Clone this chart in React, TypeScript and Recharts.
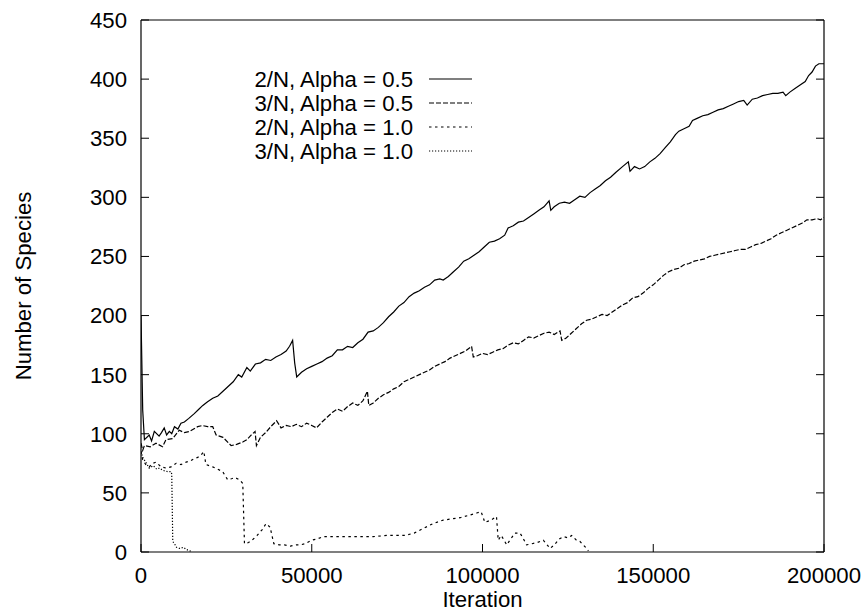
import { LineChart, Line, XAxis, YAxis } from "recharts";

const FONT = "'Liberation Sans', Arial, Helvetica, sans-serif";
const FS = 22.2;
const TICK = 8;

const xTicks = [0, 50000, 100000, 150000, 200000];
const yTicks = [0, 50, 100, 150, 200, 250, 300, 350, 400, 450];

const seriesNames = [
    "2/N, Alpha = 0.5",
    "3/N, Alpha = 0.5",
    "2/N, Alpha = 1.0",
    "3/N, Alpha = 1.0",
];
const dashes = ["", "5 2", "2.5 3.5", "1.2 1.8"];

// 2/N, Alpha = 0.5
const iterA = [
    0, 500, 1000, 2400, 3100, 3900, 5300, 6000, 6800, 7500, 8300, 9000, 9800, 10800, 11700, 12700,
    14000, 15600, 17000, 18100, 19500, 21000, 22500, 24000, 25500, 27000, 28500, 29500, 31000, 32000, 33500,
    35000, 36500, 38000, 39500, 41000, 42500, 43500, 44400, 45000, 45600, 47000, 48500, 50000, 51500,
    53000, 54500, 56000, 57500, 59000, 60500, 62000, 63500, 65000, 66500, 68000, 69500, 71000, 72500,
    74000, 75500, 77000, 78500, 80000, 81500, 83000, 84500, 86000, 87500, 88500, 90000, 91500, 93000,
    94500, 96000, 97500, 99000, 100500, 102000, 103500, 105000, 106500, 107500, 109000, 110500, 112000,
    113500, 115000, 116500, 118000, 119500, 120000, 121000, 122500, 124000, 125500, 127000, 128500,
    130000, 131500, 133000, 134500, 136000, 137500, 139000, 141000, 142700, 143200, 144500, 146000,
    147500, 149000, 150500, 152000, 153500, 155000, 156500, 157500, 159000, 160500, 161500, 163000,
    164500, 166000, 167500, 169000, 170500, 172000, 173500, 175000, 176500, 177500, 179000, 180500,
    182000, 183500, 185000, 186500, 188000, 188800, 190000, 191500, 193000, 194500, 195500, 196500,
    197500, 198500, 200000,
];
const speciesA = [
    200, 120, 95, 99, 94, 102, 98, 101, 105, 99, 102, 100, 106, 104, 109, 110,
    113, 117, 121, 124, 127, 130, 132, 136, 140, 144, 150, 148, 156, 153, 159,
    160, 163, 162, 165, 167, 170, 174, 179, 160, 148, 152, 155, 157, 159,
    161, 164, 166, 171, 171, 174, 173, 177, 180, 186, 187, 190, 194, 199,
    203, 208, 211, 216, 219, 221, 224, 226, 230, 231, 230, 233, 237, 241,
    246, 248, 251, 254, 258, 262, 263, 265, 268, 274, 276, 279, 280,
    283, 286, 289, 292, 297, 289, 292, 295, 296, 295, 298, 301,
    300, 304, 307, 310, 314, 317, 321, 326, 330, 322, 326, 324,
    326, 330, 333, 337, 342, 347, 353, 356, 358, 360, 365, 367,
    369, 370, 372, 374, 375, 377, 379, 381, 382, 378, 383, 384,
    386, 387, 388, 388, 389, 386, 389, 392, 395, 398, 403, 406,
    411, 413, 413,
];

// 3/N, Alpha = 0.5
const iterB = [
    0, 500, 1000, 2700, 4400, 6300, 7300, 9300, 11200, 12700, 14200, 16600, 18000, 19500, 21000, 22000,
    24000, 26400, 28000, 29800, 31000, 32300, 33400,
    33800, 35000, 36500, 38000, 39700, 41000, 42500, 44000, 45500, 47000, 48500, 50000, 51400, 53000,
    54500, 56000, 57500, 59000, 60500, 62000, 63500, 65000, 66300, 66700, 68000, 69500, 71000, 72500,
    74000, 75500, 77000, 78500, 80000, 81500, 83000, 84500, 86000, 87500, 89000, 90500, 92000, 93500,
    95000, 96800, 97300, 98500, 100000, 101500, 103000, 104500, 106000, 107500, 109000, 110500, 112000,
    113500, 115000, 116500, 118000, 119500, 121000, 122700, 123200, 124500, 126000, 127500, 129000,
    130500, 132000, 133500, 135000, 136500, 138000, 139500, 141000, 142500, 144000, 145500, 147000,
    148500, 150000, 151500, 153000, 154500, 156000, 157500, 159000, 160500, 162000, 163500, 165000,
    166500, 168000, 169500, 171000, 172500, 174000, 175500, 177000, 178500, 180000, 181500, 183000,
    184500, 186000, 187500, 189000, 190500, 192000, 193500, 195000, 196500, 198000, 199000, 200000,
];
const speciesB = [
    92, 86, 90, 89, 92, 89, 95, 96, 103, 101, 102, 106, 107, 106, 106, 99,
    97, 90, 91, 93, 95, 99, 102,
    90, 97, 101, 106, 111, 105, 107, 106, 108, 106, 109, 107, 105, 110,
    114, 118, 121, 119, 123, 126, 124, 128, 136, 124, 126, 130, 133, 135,
    138, 140, 144, 146, 148, 150, 152, 154, 157, 159, 161, 164, 166, 168,
    170, 174, 165, 166, 168, 167, 169, 171, 172, 175, 177, 176, 179,
    182, 181, 183, 185, 186, 184, 187, 179, 181, 185, 189, 193,
    196, 197, 199, 201, 200, 203, 206, 209, 211, 215, 216, 219,
    223, 226, 230, 234, 237, 239, 240, 243, 244, 246, 247, 248,
    250, 251, 252, 253, 254, 255, 256, 256, 258, 260, 261, 263,
    265, 268, 270, 272, 274, 276, 278, 281, 281, 282, 281, 283,
];

// 2/N, Alpha = 1.0
const iterC = [
    0, 500, 1400, 2400, 3400, 4400, 5900, 7300, 8800, 10300, 11700, 13200, 14400, 15600, 16600, 17600,
    18400, 19000, 20000, 21000, 22500, 23900, 25400, 26500, 27500, 28900, 29800,
    30300, 31500, 32900, 34000, 35500, 36600, 37800, 38900, 40500, 42000, 43700, 45500, 46600, 48000,
    50000, 51500, 53400, 56000, 60000, 64000, 68000, 72000, 75000, 77300, 80000, 82700, 85500, 88500,
    91000, 93400, 96000, 98300, 99600, 100700, 102500, 104100, 104600, 105500, 107100, 108500, 109500,
    111000, 112000, 112900, 114500, 116000, 117800, 119800, 121000, 122500, 123700, 125000, 126100,
    127500, 128500, 129500, 130500, 131000,
];
const speciesC = [
    85, 78, 74, 72, 75, 76, 72, 71, 72, 75, 74, 76, 77, 79, 80, 82,
    85, 74, 73, 72, 70, 68, 61, 62, 63, 61, 58,
    7, 8, 11, 14, 19, 24, 21, 7, 6, 6, 5, 6, 6, 7,
    10, 11, 13, 13, 13, 13, 13, 14, 14, 14, 16, 20, 24, 27,
    28, 29, 31, 33, 34, 25, 27, 30, 10, 14, 6, 12, 16,
    16, 11, 6, 7, 8, 10, 3, 6, 11, 13, 12, 14,
    10, 9, 6, 3, 1,
];

// 3/N, Alpha = 1.0
const iterD = [0, 500, 1400, 2400, 3600, 4600, 5400, 6500, 7800, 8800, 9000, 9300, 10000, 10400, 11400, 12400, 13400, 14300, 14800];
const speciesD = [85, 80, 76, 71, 73, 70, 71, 69, 68, 68, 66, 9, 6, 4, 3, 4, 2, 1, 0];

const toPoints = (xs: number[], ys: number[]) => xs.map((x, i) => ({ x, y: ys[i] }));
const series = [
    toPoints(iterA, speciesA),
    toPoints(iterB, speciesB),
    toPoints(iterC, speciesC),
    toPoints(iterD, speciesD),
];

const textStyle = { fontFamily: FONT, fontSize: FS, fill: "#000" };

function BottomTick({ x, y, payload }: any) {
    const axisY = y - 15;
    return (
        <g>
            <line x1={x} x2={x} y1={axisY} y2={axisY - TICK} stroke="#000" />
            <text x={x} y={y} dy="0.71em" textAnchor="middle" style={textStyle}>
                {payload.value}
            </text>
        </g>
    );
}

function LeftTick({ x, y, payload }: any) {
    const axisX = x + 14;
    return (
        <g>
            <line x1={axisX} x2={axisX + TICK} y1={y} y2={y} stroke="#000" />
            <text x={x} y={y} dy="0.355em" textAnchor="end" style={textStyle}>
                {payload.value}
            </text>
        </g>
    );
}

function RightTick({ x, y }: any) {
    return <line x1={x} x2={x - TICK} y1={y} y2={y} stroke="#000" />;
}

function TopTick({ x, y }: any) {
    return <line x1={x} x2={x} y1={y} y2={y + TICK} stroke="#000" />;
}

export default function App() {
    return (
        <div style={{ position: "absolute", left: 0, top: 0, background: "#fff" }}>
            <LineChart width={867} height={611} margin={{ top: 10, right: 33, bottom: 29, left: 81 }}>
                <XAxis
                    xAxisId="b"
                    dataKey="x"
                    type="number"
                    domain={[0, 200000]}
                    allowDataOverflow
                    ticks={xTicks}
                    interval={0}
                    tickSize={0}
                    tickMargin={15}
                    height={30}
                    tick={BottomTick}
                    axisLine={{ stroke: "#000", strokeWidth: 1.2 }}
                />
                <XAxis
                    xAxisId="t"
                    orientation="top"
                    type="number"
                    domain={[0, 200000]}
                    allowDataOverflow
                    ticks={xTicks}
                    interval={0}
                    tickSize={0}
                    tickMargin={0}
                    height={10}
                    tick={TopTick}
                    axisLine={{ stroke: "#000", strokeWidth: 1.2 }}
                />
                <YAxis
                    yAxisId="l"
                    type="number"
                    domain={[0, 450]}
                    allowDataOverflow
                    ticks={yTicks}
                    interval={0}
                    tickSize={0}
                    tickMargin={14}
                    width={60}
                    tick={LeftTick}
                    axisLine={{ stroke: "#000", strokeWidth: 1.2 }}
                />
                <YAxis
                    yAxisId="r"
                    orientation="right"
                    type="number"
                    domain={[0, 450]}
                    allowDataOverflow
                    ticks={yTicks}
                    interval={0}
                    tickSize={0}
                    tickMargin={0}
                    width={10}
                    tick={RightTick}
                    axisLine={{ stroke: "#000", strokeWidth: 1.2 }}
                />
                {series.map((pts, i) => (
                    <Line
                        key={seriesNames[i]}
                        xAxisId="b"
                        yAxisId="l"
                        data={pts}
                        dataKey="y"
                        type="linear"
                        stroke="#000"
                        strokeWidth={1.2}
                        strokeDasharray={dashes[i] || undefined}
                        dot={false}
                        isAnimationActive={false}
                    />
                ))}
                <text x={23} y={286} transform="rotate(-90 23 286)" dy="0.355em" textAnchor="middle" style={textStyle}>
                    Number of Species
                </text>
                <text x={482.5} y={607} textAnchor="middle" style={textStyle}>
                    Iteration
                </text>
                {seriesNames.map((name, i) => (
                    <g key={name}>
                        <text x={413} y={79 + i * 24} dy="0.355em" textAnchor="end" style={textStyle}>
                            {name}
                        </text>
                        <line
                            x1={429}
                            x2={472}
                            y1={79 + i * 24}
                            y2={79 + i * 24}
                            stroke="#000"
                            strokeWidth={1.2}
                            strokeDasharray={dashes[i] || undefined}
                        />
                    </g>
                ))}
            </LineChart>
        </div>
    );
}
